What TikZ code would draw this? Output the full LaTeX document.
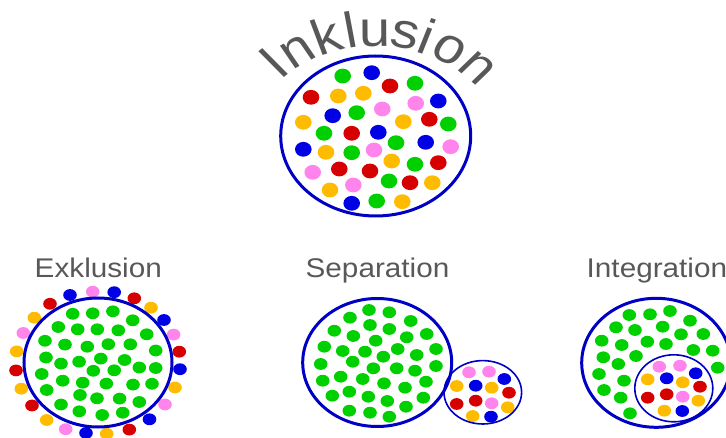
\documentclass[tikz,border=0pt]{standalone}
\usepackage{fontspec}
\setmainfont{Liberation Sans}
\definecolor{cg}{RGB}{0,208,0}
\definecolor{cb}{RGB}{0,0,228}
\definecolor{cr}{RGB}{214,0,0}
\definecolor{cy}{RGB}{255,187,0}
\definecolor{cp}{RGB}{255,132,236}
\definecolor{cring}{RGB}{0,0,196}
\definecolor{cgray}{RGB}{88,88,88}
\begin{document}
\begin{tikzpicture}[x=1pt,y=1pt,
  bigring/.style={draw=cring, line width=3pt},
  smallring/.style={draw=cring, line width=1.6pt},
  titletext/.style={text=cgray, font=\fontsize{27}{30}\selectfont, xscale=1.1, anchor=base, inner sep=0pt},
  arcletter/.style={text=cgray, font=\fontsize{50}{52}\selectfont, anchor=base, inner sep=0pt, transform shape}]
\useasboundingbox (0,0) rectangle (726,437);
\clip (0,0) rectangle (726,437);

% ---------- Inklusion ----------
\begin{scope}[shift={(375.5,271)}, xscale=1.12]
\foreach \a/\ch/\i in {131.5/I/1, 121.3/n/2, 108.6/k/3, 99.5/l/4, 90.3/u/5, 78.6/s/6, 70.3/i/7, 60.3/o/8, 47.2/n/9}
  \node[arcletter, rotate=\a-90] (L\i) at (\a:120) {\ch};
\end{scope}
\foreach \x/\y/\c in {
 342.7/76/cg, 415/83.3/cg, 356.7/112.7/cg, 448.3/124/cg, 324/133.3/cg, 396/142.7/cg, 351.7/152.7/cg, 415/164.3/cg, 389/181/cg, 376.7/201/cg,
 371.7/72.7/cb, 438.3/101/cb, 332.7/115.7/cb, 378.3/132.3/cb, 425.7/142.3/cb, 303.3/149.3/cb, 351.7/203.3/cb,
 390/86/cr, 311/97.3/cr, 429.3/119.3/cr, 351.7/133.3/cr, 438.3/162.7/cr, 339.3/169/cr, 370/171/cr, 410/182.7/cr,
 338.3/96/cy, 363.3/93.3/cy, 303.3/122.3/cy, 403.3/121.7/cy, 326/152.3/cy, 391.7/161/cy, 432.3/182.7/cy, 330/190/cy, 402.3/201.7/cy,
 415.7/103.3/cp, 382.3/109/cp, 450.7/146.7/cp, 374/150/cp, 312.7/172.3/cp, 353.3/185/cp}
  \fill[\c] (\x,{437-\y}) ellipse [x radius=8.3, y radius=7.4];
\draw[bigring] (375.7,{437-136}) ellipse [x radius=95, y radius=80];

% ---------- Exklusion ----------
\node[titletext] (tEx) at (98.3,{437-277.3}) {Exklusion};
\foreach \x/\y/\c in {
 70/295/cb, 92.7/291.7/cp, 114.2/292.2/cb, 134.3/298.3/cr, 151/307.7/cy, 164/320/cb, 173.6/334.6/cp, 179.3/351.7/cr,
 180/369.2/cb, 175/387.5/cy, 165/404.5/cp, 149.5/419.3/cb, 129.3/429.6/cr, 106.7/433.8/cy, 86/433/cb, 65.7/429.2/cp,
 46.7/420/cy, 32/405.5/cr, 21.3/388.7/cy, 16/370.4/cr, 16.7/351.4/cy, 23.3/333/cp, 34.3/317.7/cy, 50/303.8/cr}
  \fill[\c] (\x,{437-\y}) ellipse [x radius=6.8, y radius=5.9];
\foreach \x/\y in {
 72.7/313.8, 92.7/313.3, 112.9/311.3, 132.7/320.3, 58.3/327, 77.7/329.3, 97.3/329.3, 118.3/330.3, 146.7/334.3,
 45/340.8, 65/344.6, 87.3/346.7, 108.3/344.2, 130.3/344.3, 155.7/350.5, 46/357.5, 61/363.6, 79.1/361.7, 100.8/358.6,
 124.6/360, 139.3/367.5, 155.7/368, 41.7/374, 93.3/370.8, 114.2/370.3, 62.7/380.7, 82.7/382.7, 106.3/383.6, 133/384.6,
 152/383.8, 46.7/390, 80/395, 97/398.3, 119.6/398.6, 139.3/402, 61/404.5, 79.3/411.3, 102.2/415, 122.7/412.7}
  \fill[cg] (\x,{437-\y}) ellipse [x radius=6.8, y radius=5.9];
\draw[bigring] (98,{437-362.5}) ellipse [x radius=74, y radius=64.5];

% ---------- Separation ----------
\node[titletext] (tSep) at (377.5,{437-277.3}) {Separation};
\foreach \x/\y in {
 369/310, 389.3/312.3, 350/317.7, 410.7/321, 370/325, 334.3/330.7, 389.3/329, 426.7/334, 353.3/336, 375.7/340.7,
 406.7/337.3, 324.3/346.7, 342.7/351, 365/351.7, 397.7/349, 416.7/355, 436/349, 320.7/364, 352.7/361.7, 383.3/356.7,
 373.3/368.3, 396.7/368.3, 415/370.7, 436/366, 322.7/380.7, 340.7/376.7, 362.7/379, 384/383.3, 405/387.7, 426/381.7,
 332.3/395.7, 349.3/391.7, 368.3/396.7, 387.3/401, 406/406.7, 423.3/397.7, 349.3/410.7, 370/412.7, 389.3/416.7}
  \fill[cg] (\x,{437-\y}) ellipse [x radius=6.8, y radius=5.9];
\draw[bigring] (377.2,{437-362.5}) ellipse [x radius=74.5, y radius=64];
\foreach \x/\y/\c in {
 469/372.3/cp, 489/371.7/cp, 504.3/379/cb, 456.7/386/cy, 475.7/385.7/cb, 491.7/387.7/cy, 509/392.7/cr,
 456.7/404/cr, 475.7/400.7/cr, 491.7/403.3/cp, 507.7/407.3/cy, 472.7/416/cy, 491/416.7/cb}
  \fill[\c] (\x,{437-\y}) ellipse [x radius=6.8, y radius=5.9];
\draw[smallring] (482.8,{437-392.3}) ellipse [x radius=38.8, y radius=31.7];

% ---------- Integration ----------
\node[titletext] (tInt) at (656.9,{437-277.3}) {Integration};
\foreach \x/\y in {
 629.3/315, 650/314.3, 670/311, 690/320.7, 616/327.3, 635/330, 662.7/326.7, 681/334.3, 703.3/334, 601.7/340.7,
 621.7/345, 647.3/341.7, 666/344, 693.3/350, 712.7/350.7, 603.3/357.3, 618.3/364, 636/356, 717.7/367.7, 599/374,
 624/380.7, 604/390, 620.7/397.7, 630/413.3}
  \fill[cg] (\x,{437-\y}) ellipse [x radius=6.8, y radius=5.9];
\draw[bigring] (656.2,{437-362.8}) ellipse [x radius=74.5, y radius=64.5];
\foreach \x/\y/\c in {
 659.3/366.7/cp, 680/365.7/cp, 695.7/373.3/cb, 647.7/379.3/cy, 666.7/378.3/cb, 682.7/382.3/cy, 700/386.7/cr,
 647.7/397.7/cr, 666.7/394.3/cr, 682.7/396.7/cp, 698.3/400.7/cy, 664.3/410.7/cy, 682.3/411/cb}
  \fill[\c] (\x,{437-\y}) ellipse [x radius=6.8, y radius=5.9];
\draw[smallring] (673.8,{437-388.3}) ellipse [x radius=39, y radius=33.5];
\end{tikzpicture}
\end{document}
